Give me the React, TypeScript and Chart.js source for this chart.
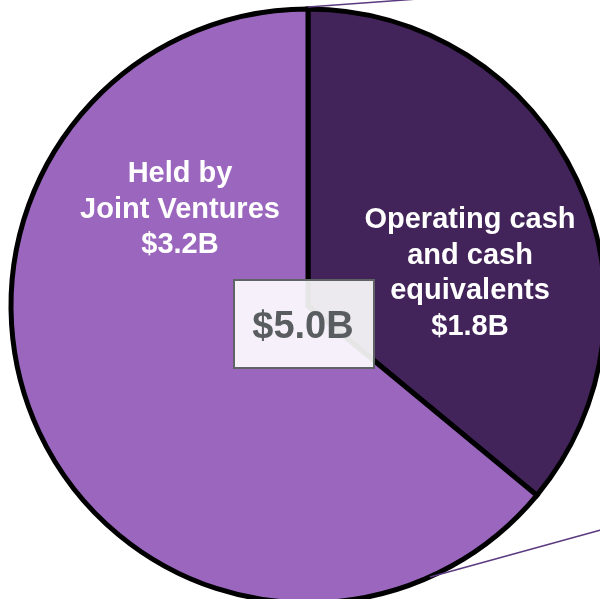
import React, { useEffect, useRef } from "react";
import { Chart, registerables } from "chart.js";

Chart.register(...registerables);

const categories = ["Operating cash and cash equivalents", "Held by Joint Ventures"];
const values = [1.8, 3.2];
const colors = ["#42235A", "#9B67BE"];
const sliceLabels = [
  ["Operating cash", "and cash", "equivalents", "$1.8B"],
  ["Held by", "Joint Ventures", "$3.2B"],
];
const totalLabel = "$5.0B";

const overlayPlugin = {
  id: "overlay",
  afterDraw(chart: any) {
    const ctx = chart.ctx;
    const arc = chart.getDatasetMeta(0).data[0];
    const cx = arc.x;
    const cy = arc.y;
    ctx.save();
    // callout lines
    ctx.strokeStyle = "#5B3A80";
    ctx.lineWidth = 1.5;
    ctx.beginPath();
    ctx.moveTo(cx, cy - 299);
    ctx.lineTo(cx + 110, cy - 307);
    ctx.stroke();
    ctx.beginPath();
    ctx.moveTo(cx + 122, cy + 271);
    ctx.lineTo(cx + 300, cy + 222);
    ctx.stroke();

    // slice labels
    ctx.fillStyle = "#FFFFFF";
    ctx.font = "bold 29px 'Liberation Sans', Arial, sans-serif";
    ctx.textAlign = "center";
    ctx.textBaseline = "middle";
    const pos = [
      { x: cx + 162, y: cy - 86 },
      { x: cx - 128, y: cy - 132 },
    ];
    sliceLabels.forEach((lines, i) => {
      lines.forEach((t, j) => {
        ctx.fillText(t, pos[i].x, pos[i].y + j * 35.5);
      });
    });

    // center box
    const bx = cx - 74;
    const by = cy - 26;
    const bw = 140;
    const bh = 88;
    ctx.fillStyle = "rgba(255,255,255,0.9)";
    ctx.fillRect(bx, by, bw, bh);
    ctx.strokeStyle = "#5F6366";
    ctx.lineWidth = 2;
    ctx.strokeRect(bx, by, bw, bh);
    ctx.fillStyle = "#595D60";
    ctx.font = "bold 38px 'Liberation Sans', Arial, sans-serif";
    ctx.fillText(totalLabel, bx + bw / 2 - 1, by + bh / 2 + 4);
    ctx.restore();
  },
};

export default function App() {
  const ref = useRef<HTMLCanvasElement>(null);
  useEffect(() => {
    if (!ref.current) return;
    const chart = new Chart(ref.current, {
      type: "pie",
      data: {
        labels: categories,
        datasets: [
          {
            data: values,
            backgroundColor: colors,
            borderColor: "#000000",
            borderWidth: 5,
            borderJoinStyle: "miter" as any,
          },
        ],
      },
      options: {
        responsive: false,
        animation: false,
        devicePixelRatio: 1,
        radius: 297,
        layout: { padding: 0 },
        plugins: {
          legend: { display: false },
          tooltip: { enabled: false },
        },
      } as any,
      plugins: [overlayPlugin],
    });
    return () => chart.destroy();
  }, []);
  return (
    <div
      style={{
        position: "fixed",
        left: 0,
        top: 0,
        width: 600,
        height: 599,
        overflow: "hidden",
        background: "#FFFFFF",
      }}
    >
      <canvas ref={ref} width={616} height={612} style={{ display: "block" }} />
    </div>
  );
}
